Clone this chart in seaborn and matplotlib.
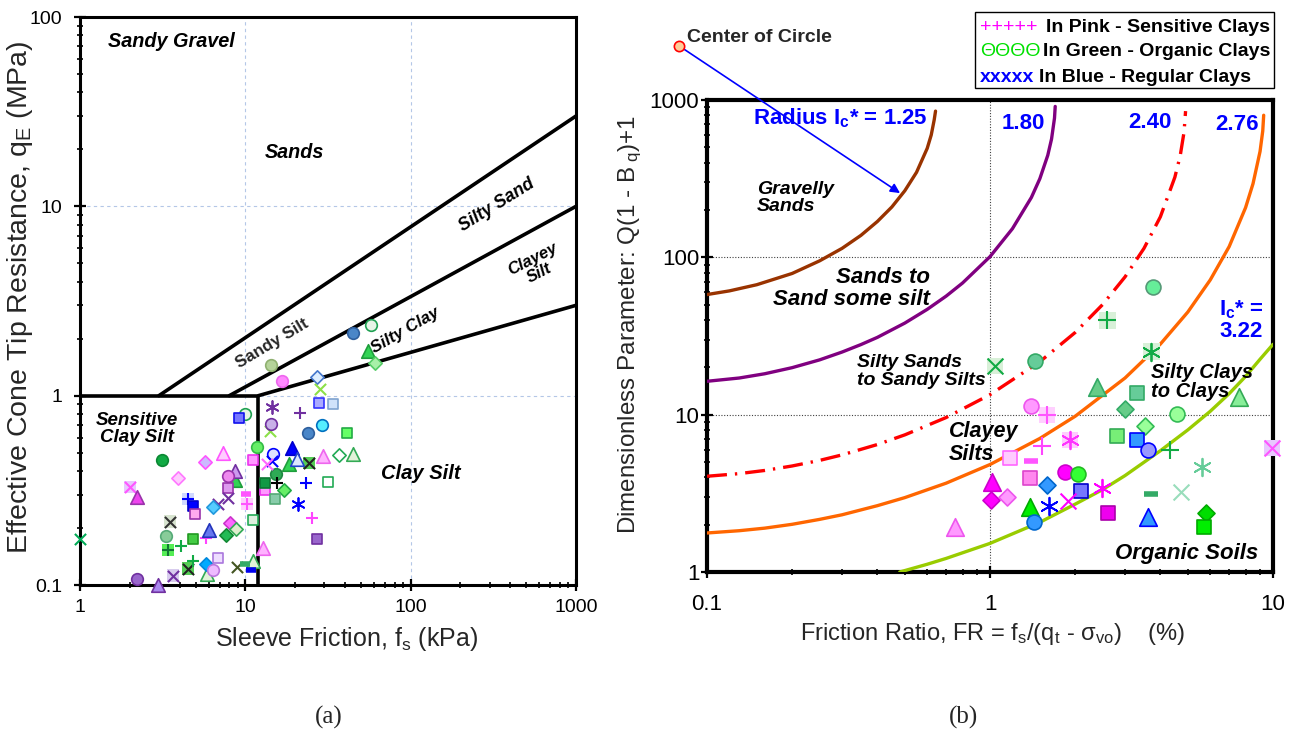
import numpy as np
import pandas as pd
import seaborn as sns
import matplotlib.pyplot as plt
from matplotlib.patches import Rectangle
from matplotlib.ticker import FuncFormatter, LogLocator, NullFormatter

sns.set_style('ticks')
plt.rcParams['font.family'] = ['Liberation Sans', 'DejaVu Sans']
plt.rcParams['mathtext.fontset'] = 'custom'
plt.rcParams['mathtext.rm'] = 'Liberation Sans'
plt.rcParams['mathtext.it'] = 'Liberation Sans:italic'
plt.rcParams['mathtext.bf'] = 'Liberation Sans:bold'
plt.rcParams['mathtext.default'] = 'regular'

# ---- chart (a): boundary lines (fs in kPa, qE in MPa)
LINES_A_FS = [[3, 1000], [8, 1000], [12, 1000]]
LINES_A_QE = [[1, 30], [1, 10], [1, 3]]
BOX_FS = [1, 12, 12]
BOX_QE = [1, 1, 0.1]

# ---- chart (a): data points
FS_A = [14.3, 16.7, 44.9, 57.5, 55.2, 60.9, 27.2, 28.3, 28.0, 34.0,
        14.5, 21.4, 9.96, 9.16, 14.3, 14.1, 23.9, 29.1, 41.2, 11.8,
        19.2, 20.5, 14.7, 14.5, 11.1, 24.3, 29.5, 36.9, 44.9, 18.4,
        15.3, 13.2, 15.6, 23.3, 31.7, 17.1, 15.1, 13.2, 20.8, 25.3,
        27.2, 12.8, 3.13, 5.70, 7.33, 3.92, 2.0, 2.21, 8.66, 8.66,
        7.85, 7.85, 7.85, 6.86, 10.1, 10.2, 4.5, 4.83, 4.97, 6.38,
        3.5, 3.31, 1.0, 4.83, 5.8, 6.05, 8.1, 7.64, 8.8, 11.1,
        3.4, 4.08, 4.5, 4.83, 5.78, 5.87, 6.38, 6.83, 3.65, 2.21,
        2.96, 8.91, 10.0, 10.8, 11.1, 13.5]
QE_A = [1.46, 1.19, 2.15, 2.35, 1.73, 1.48, 1.25, 1.09, 0.918, 0.907,
        0.875, 0.81, 0.80, 0.765, 0.711, 0.653, 0.637, 0.703, 0.637, 0.537,
        0.531, 0.464, 0.49, 0.453, 0.459, 0.442, 0.482, 0.488, 0.493, 0.437,
        0.387, 0.347, 0.347, 0.347, 0.351, 0.318, 0.285, 0.318, 0.268, 0.226,
        0.175, 0.157, 0.458, 0.448, 0.499, 0.368, 0.33, 0.292, 0.401, 0.36,
        0.377, 0.326, 0.289, 0.268, 0.303, 0.268, 0.285, 0.262, 0.238, 0.259,
        0.216, 0.182, 0.175, 0.175, 0.177, 0.195, 0.213, 0.184, 0.198, 0.221,
        0.153, 0.161, 0.122, 0.134, 0.129, 0.114, 0.12, 0.139, 0.112, 0.108,
        0.1, 0.125, 0.129, 0.12, 0.134, 0.437]
KIND_A = ['olive_o', 'pink_o', 'steel_o', 'gopen_o', 'green_^', 'lgreen_D', 'lblue_D', 'lgreen_x', 'lav_s', 'lblue_s',
          'purple_*', 'purple_+', 'gopen_o', 'blue_s', 'lav_o', 'lgreen_x', 'steel_o', 'cyan_o', 'green_s', 'lgreen_o',
          'blue_^', 'lblue_^', 'bopen_o', 'blue_x', 'pinkh_s', 'gsq_kx', 'pinkh_^', 'gopen_D', 'lgopen_^', 'green_^',
          'mgreen_o', 'dgreen_s', 'black_+', 'blue_+', 'gopen_s', 'green_D', 'sage_s', 'pinkh_s', 'blue_*', 'pink_+',
          'purple_s', 'pinkh_^', 'dgreen_o', 'pinklav_D', 'pink_^o', 'lpink_D', 'pink_x_bg', 'magenta_^', 'lav_^', 'green_^',
          'pp_o', 'pp_s', 'purple_x', 'purple_x', 'pink_-', 'pink_+_bg', 'blue_+_bg', 'sblue_s', 'lpink_s', 'cyan_D',
          'black_x_bg', 'sage_o', 'green_x', 'green_s2', 'pink_+', 'bluemid_^', 'magenta_D', 'dgreen_D', 'lgopen_D', 'lgopen_s',
          'green_+_bg', 'green_+', 'gsq_kx', 'green_+', 'cyan_D2', 'lgopen_^', 'lav_o2', 'lpurple_s', 'purple_x_bg', 'purple_o',
          'purple_^', 'olive_x', 'green_-', 'blue_-', 'lgopen_^', 'pink_x']

# ---- chart (b): Ic* boundary curves (FR %, Q(1-Bq)+1)
IC_LABELS = ['1.25', '1.80', '2.40', '2.76', '3.22']
FR_125 = [0.1, 0.12, 0.15, 0.2, 0.25, 0.3, 0.35, 0.4, 0.45, 0.5, 0.55, 0.6, 0.62, 0.635, 0.642]
QN_125 = [58, 61.2, 67, 79, 95, 114, 138, 169, 209, 265, 347, 493, 600, 747, 850]
FR_180 = [0.1, 0.13, 0.16, 0.2, 0.25, 0.3, 0.35, 0.4, 0.5, 0.6, 0.7, 0.8, 1.0, 1.2, 1.4, 1.5, 1.6, 1.65, 1.69, 1.7]
QN_180 = [16.3, 17.1, 18.2, 19.9, 22.3, 25, 27.9, 31, 38.2, 46.7, 56.7, 68.7, 101, 152, 240, 316, 445, 565, 767, 910]
FR_240 = [0.1, 0.13, 0.16, 0.2, 0.25, 0.3, 0.4, 0.5, 0.7, 1, 1.5, 2, 2.5, 3, 3.5, 4, 4.5, 4.7, 4.85, 4.91]
QN_240 = [4.06, 4.22, 4.42, 4.72, 5.12, 5.55, 6.46, 7.44, 9.59, 13.4, 21.7, 33.3, 50.1, 75.1, 114, 181, 323, 442, 627, 850]
FR_276 = [0.1, 0.13, 0.16, 0.2, 0.25, 0.3, 0.4, 0.5, 0.7, 1, 1.5, 2, 3, 4, 5, 6, 7, 8, 8.5, 9, 9.2, 9.27]
QN_276 = [1.77, 1.83, 1.90, 2.01, 2.16, 2.31, 2.64, 2.97, 3.67, 4.82, 7.06, 9.77, 17.1, 28.1, 44.9, 71.8, 117, 207,
          294, 471, 636, 800]
FR_322 = [0.48, 0.6, 0.7, 1, 1.5, 2, 2.5, 3, 4, 5, 6, 7, 8, 9, 10]
QN_322 = [1.0, 1.12, 1.22, 1.52, 2.07, 2.7, 3.34, 4.1, 5.9, 8.0, 10.5, 13.6, 17.5, 22.5, 28]

# ---- chart (b): data points
FR_B = [3.78, 2.60, 3.72, 1.04, 1.44, 2.38, 3.30, 7.57, 3.01, 4.57,
        3.52, 2.82, 1.40, 1.59, 1.53, 1.92, 1.18, 1.40, 1.39, 1.84,
        2.04, 3.32, 3.63, 4.31, 5.6, 4.72, 3.72, 1.02, 1.01, 1.15,
        1.59, 2.10, 2.48, 1.89, 1.39, 1.61, 1.43, 2.62, 3.63, 5.78,
        5.7, 0.75, 9.9]
QN_B = [64.4, 39.7, 25.2, 20.5, 21.8, 15.1, 13.8, 13.0, 10.8, 10.1,
        8.51, 7.35, 11.4, 10.0, 6.35, 6.93, 5.32, 5.09, 3.97, 4.33,
        4.21, 6.93, 5.98, 5.98, 4.67, 3.23, 3.14, 3.74, 2.88, 3.0,
        3.58, 3.28, 3.43, 2.83, 2.59, 2.63, 2.08, 2.38, 2.24, 2.38,
        1.94, 1.94, 6.17]
KIND_B = ['mint_o', 'green_+_lbg', 'green_*_bg', 'green_x_bg', 'sea_o', 'sea_^', 'sea_s', 'lg_^', 'sea_D', 'lg_o',
          'lg_D', 'lg_s', 'pinkb_o', 'pink_+_bg', 'pink_+', 'pink_*_bg', 'lpink_s2', 'pink_-', 'pinkb_s', 'mag_o',
          'bgreen_o', 'sky_s', 'peri_o', 'green_+', 'lsea_*', 'lsea_x', 'green_-', 'mag_^', 'mag_D', 'lpinkb_D',
          'sky_D', 'peri_s', 'mag_*', 'mag_x', 'bgreen_^', 'blue_*', 'sky_o', 'mag_s', 'sky_^', 'bgreen_D',
          'bgreen_s', 'lpink_^', 'pink_x_bg']

STAR = (6, 2, 0)
# marker, face colour, edge colour, background square
STYLE = {
    'olive_o': ('o', '#B5D39A', '#8FB070', None), 'pink_o': ('o', '#FF88FF', '#EE66EE', None),
    'steel_o': ('o', '#4A86C8', '#2E5F9E', None), 'gopen_o': ('o', '#E6F4E6', '#1FA152', None),
    'green_^': ('^', '#33D455', '#1E9E3C', None), 'lgreen_D': ('D', '#A8F0A8', '#55CC66', None),
    'lblue_D': ('D', '#DDEEFF', '#4477CC', None), 'lgreen_x': ('x', '#8CE048', None, None),
    'lav_s': ('s', '#AAAAFF', '#3333FF', None), 'lblue_s': ('s', '#D0E2FA', '#7FA3CF', None),
    'purple_*': (STAR, '#7030A0', None, None), 'purple_+': ('+', '#7030A0', None, None),
    'blue_s': ('s', '#7777FF', '#1111EE', None), 'lav_o': ('o', '#C8B0E8', '#7030A0', None),
    'cyan_o': ('o', '#55EEFF', '#0070C0', None), 'green_s': ('s', '#66FF66', '#22AA44', None),
    'lgreen_o': ('o', '#66EE66', '#33BB44', None), 'blue_^': ('^', '#0000FF', '#0000CC', None),
    'lblue_^': ('^', '#DDE8FF', '#2244CC', None), 'blue_x': ('x', '#0000FF', None, None),
    'bopen_o': ('o', '#DDE0FF', '#0000FF', None), 'pinkh_s': ('s', '#FF99FF', '#EE33EE', None),
    'gsq_kx': ('x', '#222222', None, '#55CC55'), 'pinkh_^': ('^', '#FFB3FF', '#EE66EE', None),
    'gopen_D': ('D', 'white', '#22AA55', None), 'lgopen_^': ('^', '#E2F2D8', '#33AA55', None),
    'mgreen_o': ('o', '#2EAA55', '#1E8840', None), 'dgreen_s': ('s', '#119944', '#0B7733', None),
    'black_+': ('+', 'black', None, None), 'blue_+': ('+', '#0000FF', None, None),
    'gopen_s': ('s', 'white', '#22AA55', None), 'green_D': ('D', '#66EE66', '#22AA44', None),
    'sage_s': ('s', '#88CCAA', '#55AA77', None), 'blue_*': (STAR, '#0000FF', None, None),
    'pink_+': ('+', '#FF44FF', None, None), 'purple_s': ('s', '#9966CC', '#7030A0', None),
    'dgreen_o': ('o', '#11AA44', '#0B8833', None), 'pinklav_D': ('D', '#CCBBFF', '#FF55FF', None),
    'pink_^o': ('^', '#FFCCFF', '#FF55FF', None), 'lpink_D': ('D', '#FFCCFF', '#FF77FF', None),
    'pink_x_bg': ('x', '#FF55FF', None, '#E8C8FF'), 'magenta_^': ('^', '#EE44EE', '#9933AA', None),
    'lav_^': ('^', '#CC99EE', '#7030A0', None), 'pp_o': ('o', '#EE88EE', '#9933AA', None),
    'pp_s': ('s', '#DD99EE', '#9933AA', None), 'purple_x': ('x', '#7030A0', None, None),
    'pink_-': ('_', '#FF55FF', None, None), 'pink_+_bg': ('+', '#FF55FF', None, '#FFD0FF'),
    'blue_+_bg': ('+', '#0000FF', None, '#D0D8FF'), 'sblue_s': ('s', '#0000FF', '#0000CC', None),
    'lpink_s': ('s', '#FFAAEE', '#9933AA', None), 'cyan_D': ('D', '#55CCFF', '#2299DD', None),
    'black_x_bg': ('x', '#333333', None, '#D8E4D0'), 'sage_o': ('o', '#88CC99', '#55AA77', None),
    'green_x': ('x', '#00AA55', None, None), 'green_s2': ('s', '#44CC44', '#229922', None),
    'bluemid_^': ('^', '#6677EE', '#2233BB', None), 'magenta_D': ('D', '#FF66FF', '#CC33CC', None),
    'dgreen_D': ('D', '#22BB55', '#118833', None), 'lgopen_D': ('D', '#DDEECC', '#33AA55', None),
    'lgopen_s': ('s', '#DDEEDD', '#22AA55', None), 'green_+_bg': ('+', '#117733', None, '#55EE55'),
    'green_+': ('+', '#11AA44', None, None), 'cyan_D2': ('D', '#00AAFF', '#0088DD', None),
    'lav_o2': ('o', '#EEBBFF', '#BB77DD', None), 'lpurple_s': ('s', '#EEDDFF', '#AA77DD', None),
    'purple_x_bg': ('x', '#7030A0', None, '#D8CCEE'), 'purple_o': ('o', '#9966CC', '#7030A0', None),
    'purple_^': ('^', '#AA88EE', '#7030A0', None), 'olive_x': ('x', '#445522', None, None),
    'green_-': ('_', '#33AA66', None, None), 'blue_-': ('_', '#0000EE', None, None),
    'pink_x': ('x', '#FF66FF', None, None),
    # chart (b)
    'mint_o': ('o', '#66EE99', '#559977', None), 'green_+_lbg': ('+', '#11AA44', None, '#D8F0D8'),
    'green_*_bg': (STAR, '#11AA44', None, '#D8F0D8'), 'green_x_bg': ('x', '#11AA44', None, '#D8F0D8'),
    'sea_o': ('o', '#66CC99', '#33AA66', None), 'sea_^': ('^', '#66CC88', '#33AA66', None),
    'sea_s': ('s', '#66CC99', '#33AA66', None), 'lg_^': ('^', '#88EE99', '#33AA55', None),
    'sea_D': ('D', '#66CC88', '#33AA66', None), 'lg_o': ('o', '#99FF99', '#33BB55', None),
    'lg_D': ('D', '#99FF99', '#33BB55', None), 'lg_s': ('s', '#77EE77', '#33AA55', None),
    'pinkb_o': ('o', '#FF99FF', '#EE55EE', None), 'pink_*_bg': (STAR, '#FF33FF', None, '#FFCCFF'),
    'lpink_s2': ('s', '#FFCCFF', '#FF66FF', None), 'pinkb_s': ('s', '#FF88EE', '#DD44CC', None),
    'mag_o': ('o', '#FF00FF', '#CC00CC', None), 'bgreen_o': ('o', '#33FF33', '#22BB22', None),
    'sky_s': ('s', '#3399FF', '#0000FF', None), 'peri_o': ('o', '#9999FF', '#0000FF', None),
    'lsea_*': (STAR, '#66CC99', None, None), 'lsea_x': ('x', '#99DDBB', None, None),
    'mag_^': ('^', '#FF00FF', '#CC00CC', None), 'mag_D': ('D', '#FF00FF', '#CC00CC', None),
    'lpinkb_D': ('D', '#FF99FF', '#EE55EE', None), 'sky_D': ('D', '#3399FF', '#0066CC', None),
    'peri_s': ('s', '#7777FF', '#0000CC', None), 'mag_*': (STAR, '#FF00FF', None, None),
    'mag_x': ('x', '#FF00FF', None, None), 'bgreen_^': ('^', '#00EE00', '#00AA00', None),
    'sky_o': ('o', '#3399FF', '#0066CC', None), 'mag_s': ('s', '#EE00EE', '#AA00AA', None),
    'sky_^': ('^', '#3399FF', '#0000FF', None), 'bgreen_D': ('D', '#00DD00', '#00AA00', None),
    'bgreen_s': ('s', '#00EE00', '#00AA00', None), 'lpink_^': ('^', '#FF99FF', '#EE55EE', None),
}

SIZE_A = {'o': 70, 's': 62, 'D': 46, '^': 95, '+': 85, 'x': 65, '_': 60, '*': 85}
SIZE_B = {'o': 115, 's': 105, 'D': 75, '^': 160, '+': 150, 'x': 130, '_': 90, '*': 160}
LINE_W = {'+': 1.5, 'x': 1.5, '_': 4, '*': 1.3}


def draw_points(ax, xs, ys, kinds, sizes):
    df = pd.DataFrame({'x': xs, 'y': ys, 'kind': kinds})
    for kind, grp in df.groupby('kind', sort=False):
        marker, face, edge, bg = STYLE[kind]
        key = '*' if isinstance(marker, tuple) else marker
        if bg is not None:
            sns.scatterplot(data=grp, x='x', y='y', marker='s', color=bg, edgecolor='none',
                            s=sizes['s'] * 1.3, ax=ax, clip_on=False, legend=False, zorder=4)
        if edge is None:
            sns.scatterplot(data=grp, x='x', y='y', marker=marker, color=face, linewidth=LINE_W[key],
                            s=sizes[key], ax=ax, clip_on=False, legend=False, zorder=5)
        else:
            sns.scatterplot(data=grp, x='x', y='y', marker=marker, color=face, edgecolor=edge,
                            linewidth=1.2, s=sizes[key], ax=ax, clip_on=False, legend=False, zorder=5)


def style_axes(ax, spine_w, label_size, xpad, ypad):
    ax.set_xscale('log')
    ax.set_yscale('log')
    for sp in ax.spines.values():
        sp.set_visible(True)
        sp.set_color('black')
        sp.set_linewidth(spine_w)
    fmt = FuncFormatter(lambda v, p: f'{v:g}')
    ax.xaxis.set_major_formatter(fmt)
    ax.yaxis.set_major_formatter(fmt)
    ax.xaxis.set_minor_locator(LogLocator(base=10, subs=np.arange(2, 10)))
    ax.yaxis.set_minor_locator(LogLocator(base=10, subs=np.arange(2, 10)))
    ax.xaxis.set_minor_formatter(NullFormatter())
    ax.yaxis.set_minor_formatter(NullFormatter())
    ax.tick_params(which='major', direction='inout', length=8, width=1.6, labelsize=label_size,
                   colors='black')
    ax.tick_params(which='minor', direction='inout', length=4, width=1.2, colors='black')
    ax.tick_params(axis='x', which='major', pad=xpad)
    ax.tick_params(axis='y', which='major', pad=ypad)
    ax.set_axisbelow(True)


fig = plt.figure(figsize=(12.96, 7.47), dpi=100)
axa = fig.add_axes([80 / 1296, 1 - 585 / 747, 496 / 1296, 568 / 747])
axb = fig.add_axes([707 / 1296, 1 - 572 / 747, 566 / 1296, 472 / 747])

# ================= chart (a)
style_axes(axa, 2.2, 14, 6, 9)
axa.set_xlim(1, 1000)
axa.set_ylim(0.1, 100)
axa.grid(True, which='major', color='#B4C7E7', linestyle=(0, (3, 3)), linewidth=0.8)

for lx, ly in zip(LINES_A_FS, LINES_A_QE):
    sns.lineplot(x=lx, y=ly, ax=axa, color='black', linewidth=2.6, sort=False, estimator=None, zorder=3)
sns.lineplot(x=BOX_FS, y=BOX_QE, ax=axa, color='black', linewidth=2.6, sort=False, estimator=None, zorder=3)

draw_points(axa, FS_A, QE_A, KIND_A, SIZE_A)

bi = dict(fontweight='bold', fontstyle='italic', color='black')
axa.text(1.48, 73.8, 'Sandy Gravel', ha='left', va='center', fontsize=14.3, **bi)
axa.text(19.8, 19.3, 'Sands', ha='center', va='center', fontsize=14.2, **bi)
axa.text(332, 10.1, 'Silty Sand', ha='center', va='center', fontsize=12.8, rotation=32, **bi)
axa.text(14.5, 1.88, 'Sandy Silt', ha='center', va='center', fontsize=12.2, rotation=31,
         fontweight='bold')
axa.text(93, 2.21, 'Silty Clay', ha='center', va='center', fontsize=12.2, rotation=30, **bi)
axa.text(572, 4.81, 'Clayey\nSilt', ha='center', va='center', fontsize=12, rotation=27,
         multialignment='center', linespacing=1.05, **bi)
axa.text(2.21, 0.669, 'Sensitive\nClay Silt', ha='center', va='center', fontsize=13.5,
         multialignment='center', linespacing=1.0, **bi)
axa.text(115, 0.387, 'Clay Silt', ha='center', va='center', fontsize=14.5, **bi)

axa.set_xlabel('Sleeve Friction, f$_s$ (kPa)', fontsize=18)
axa.set_ylabel('Effective Cone Tip Resistance, q$_E$ (MPa)', fontsize=20.5)
axa.xaxis.set_label_coords(0.538, -0.07)
axa.yaxis.set_label_coords(-0.09, 0.507)

# ================= chart (b)
style_axes(axb, 3, 16, 12, 1.5)
axb.set_xlim(0.1, 10)
axb.set_ylim(1, 1000)
axb.grid(True, which='major', color='#404040', linestyle=(0, (1, 1.5)), linewidth=0.8)

curves = [(FR_125, QN_125, '#993300', '-'), (FR_180, QN_180, '#800080', '-'),
          (FR_240, QN_240, '#FF0000', (0, (6, 2.4, 0.7, 2.4))), (FR_276, QN_276, '#FF6600', '-'),
          (FR_322, QN_322, '#99CC00', '-')]
for cx, cy, col, ls in curves:
    sns.lineplot(x=cx, y=cy, ax=axb, color=col, linewidth=2.4, linestyle=ls,
                 sort=False, estimator=None, zorder=3)

draw_points(axb, FR_B, QN_B, KIND_B, SIZE_B)

axb.text(0.15, 238, 'Gravelly\nSands', ha='left', va='center', fontsize=14, linespacing=1.05, **bi)
axb.text(0.614, 63.5, 'Sands to\nSand some silt', ha='right', va='center', fontsize=16,
         multialignment='right', linespacing=1.1, **bi)
axb.text(0.339, 18.8, 'Silty Sands\nto Sandy Silts', ha='left', va='center', fontsize=14,
         linespacing=1.05, **bi)
axb.text(0.716, 6.6, 'Clayey\nSilts', ha='left', va='center', fontsize=15.5, linespacing=1.1, **bi)
axb.text(3.7, 16.2, 'Silty Clays\nto Clays', ha='left', va='center', fontsize=14.5,
         linespacing=1.0, **bi)
axb.text(8.9, 1.32, 'Organic Soils', ha='right', va='center', fontsize=16, **bi)

bl = dict(fontweight='bold', color='#0000FF', fontsize=16)
axb.text(0.6, 768, 'Radius I$_\\mathbf{c}$* = ' + IC_LABELS[0], ha='right', va='center', **bl)
axb.text(1.31, 713, IC_LABELS[1], ha='center', va='center', **bl)
axb.text(3.67, 720, IC_LABELS[2], ha='center', va='center', **bl)
axb.text(7.46, 700, IC_LABELS[3], ha='center', va='center', **bl)
axb.text(7.71, 39.7, 'I$_\\mathbf{c}$* =\n' + IC_LABELS[4], ha='center', va='center',
         multialignment='center', linespacing=1.0, **bl)

# centre of circle marker with arrow to the 1.25 curve
axb.annotate('', xy=(0.481, 256), xytext=(0.0796, 2210),
             arrowprops=dict(arrowstyle='-|>', color='#0000FF', lw=1.2, mutation_scale=14,
                             shrinkA=3, shrinkB=0),
             annotation_clip=False)
sns.scatterplot(x=[0.0796], y=[2210], ax=axb, marker='o', color='#FFCC99', edgecolor='#FF0000',
                linewidth=1.2, s=55, clip_on=False, legend=False, zorder=6)
axb.text(0.085, 2480, 'Center of Circle', ha='left', va='center', fontsize=14,
         fontweight='bold', clip_on=False)

axb.set_xlabel('Friction Ratio, FR = f$_s$/(q$_t$ - σ$_{vo}$)    (%)', fontsize=17)
axb.set_ylabel('Dimensionless Parameter: Q(1 - B$_{\\ q}$)+1', fontsize=17.4)
axb.xaxis.set_label_coords(0.505, -0.104)
axb.yaxis.set_label_coords(-0.111, 0.525)

# legend box in top-right corner
fig.patches.append(Rectangle((975 / 1296, 1 - 88 / 747), 299 / 1296, 76 / 747,
                             transform=fig.transFigure, facecolor='white',
                             edgecolor='black', linewidth=1.0))
rows = [('+++++', '#FF00FF', 'normal', 'In Pink - Sensitive Clays', 27, 1046),
        ('ΘΘΘΘ', '#00E000', 'normal', 'In Green - Organic Clays', 52, 1043),
        ('xxxxx', '#0000FF', 'bold', 'In Blue - Regular Clays', 77, 1039)]
for pre, col, wt, txt, yy, tx in rows:
    fig.text(980 / 1296, 1 - yy / 747, pre, color=col, fontsize=14, fontweight=wt,
             ha='left', va='center')
    fig.text(tx / 1296, 1 - yy / 747, txt, color='black', fontsize=14, fontweight='bold',
             ha='left', va='center')

fig.text(329 / 1296, 1 - 717 / 747, '(a)', fontsize=18, family='Liberation Serif',
         ha='center', va='center')
fig.text(963 / 1296, 1 - 717 / 747, '(b)', fontsize=18, family='Liberation Serif',
         ha='center', va='center')

fig.savefig('out.png', dpi=100)
